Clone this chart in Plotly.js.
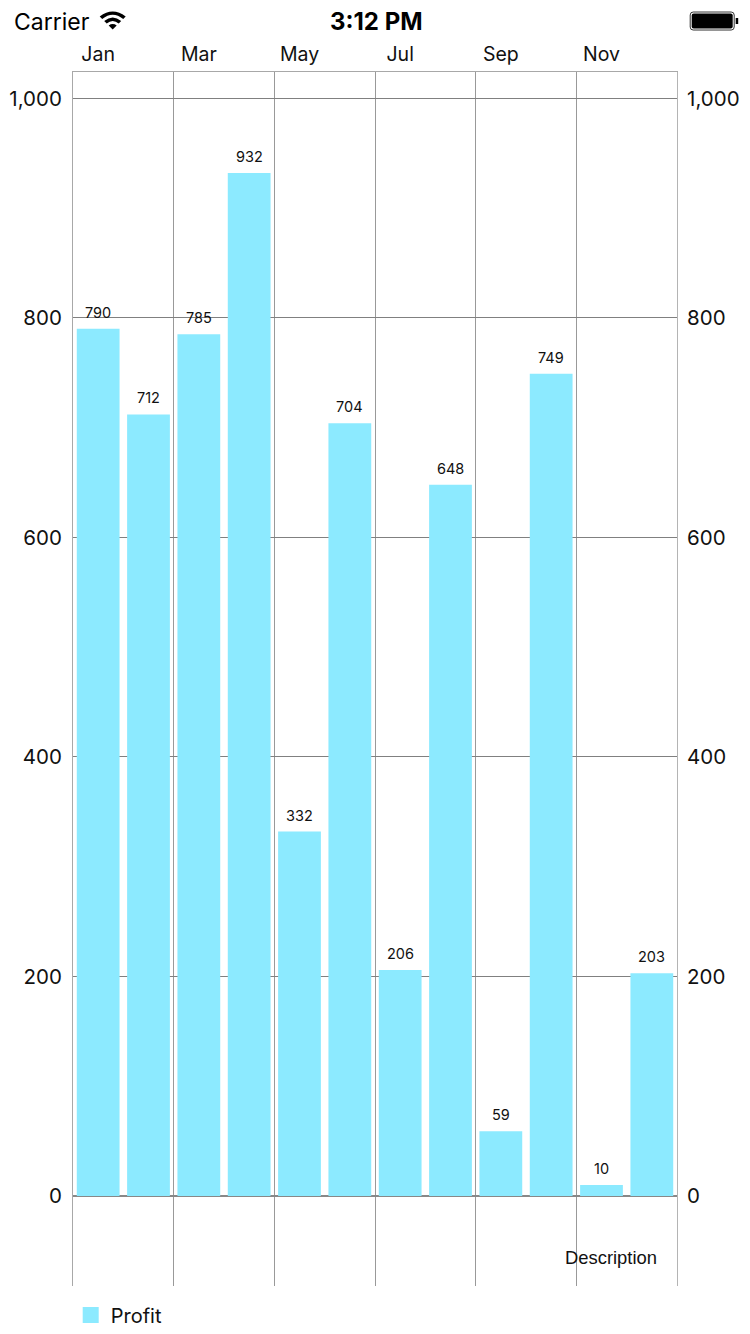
<!DOCTYPE html>
<html><head><meta charset="utf-8">
<script src="https://cdn.plot.ly/plotly-3.0.1.min.js"></script>
<style>
html,body{margin:0;padding:0;background:#fff;overflow:hidden}
#chart{width:750px;height:1334px}
</style></head><body>
<div id="chart"></div>
<script>
const months = ["Jan","Feb","Mar","Apr","May","Jun","Jul","Aug","Sep","Oct","Nov","Dec"];
const profit = [790,712,785,932,332,704,206,648,59,749,10,203];
const yTicks = [0,200,400,600,800,1000];
const xLabelIdx = [0,2,4,6,8,10];
const xGrid = [-0.5,1.5,3.5,5.5,7.5,9.5,11.5];
const FONT = "Inter, Roboto, sans-serif";
const W = 750, H = 1334;
const M = {l:73.3, r:72.7, t:71.5, b:48};
const px = v => (v - M.l) / (W - M.l - M.r);
const py = v => 1 - (v - M.t) / (H - M.t - M.b);
const rounded = (x0,y0,x1,y1,r) => ["M",px(x0+r),py(y0),"L",px(x1-r),py(y0),"Q",px(x1),py(y0),px(x1),py(y0+r),
  "L",px(x1),py(y1-r),"Q",px(x1),py(y1),px(x1-r),py(y1),"L",px(x0+r),py(y1),"Q",px(x0),py(y1),px(x0),py(y1-r),
  "L",px(x0),py(y0+r),"Q",px(x0),py(y0),px(x0+r),py(y0),"Z"].join(" ");

const traces = [
  {type:"bar", x:months.map((_,i)=>i), y:profit, width:0.85, name:"Profit", showlegend:false,
   marker:{color:"#8CEAFF"}, hoverinfo:"x+y"},
  {type:"scatter", mode:"markers", x:[null], y:[null], name:"Profit", showlegend:true,
   marker:{symbol:"square", size:16, color:"#8CEAFF"}},
  {type:"scatter", mode:"markers", x:[null], y:[null], yaxis:"y2", showlegend:false, hoverinfo:"skip"}
];

const valueLabels = profit.map((v,i)=>({
  x:i, y:v, xref:"x", yref:"y", text:String(v), showarrow:false, yanchor:"bottom", yshift:6,
  font:{family:FONT, size:14.5, color:"#111"}
}));

const statusText = [
  {x:px(12), y:py(21), text:"Carrier", xanchor:"left", font:{family:FONT, size:23, color:"#000"}},
  {x:px(377), y:py(21), text:"<b>3:12 PM</b>", xanchor:"center", font:{family:FONT, size:24, color:"#000"}},
  {x:px(611), y:py(1257), text:"Description", xanchor:"center", font:{family:"Liberation Sans", size:18.4, color:"#111"}}
].map(a=>Object.assign({xref:"paper", yref:"paper", showarrow:false, yanchor:"middle"}, a));

const layout = {
  width:W, height:H, autosize:false,
  margin:{l:M.l, r:M.r, t:M.t, b:M.b, pad:0, autoexpand:false},
  paper_bgcolor:"#fff", plot_bgcolor:"#fff",
  font:{family:FONT, color:"#111"},
  bargap:0.15,
  xaxis:{
    side:"top", range:[-0.5,11.5], tickmode:"array",
    tickvals:xLabelIdx, ticktext:xLabelIdx.map(i=>months[i]),
    showgrid:false, zeroline:false, ticks:"", tickfont:{family:FONT, size:19.5, color:"#111"},
    ticklabelstandoff:2,
    showline:true, linecolor:"#a8a8a8", linewidth:1,
    minor:{tickmode:"array", tickvals:xGrid, showgrid:true, gridcolor:"#999999", gridwidth:1, ticks:""}
  },
  yaxis:{
    range:[-82,1024], tickmode:"array", tickvals:yTicks, tickformat:",d", ticks:"",
    ticklabelstandoff:6,
    tickfont:{family:FONT, size:20.5, color:"#111"},
    showgrid:true, gridcolor:"#808080", gridwidth:1,
    zeroline:true, zerolinecolor:"#888888", zerolinewidth:2,
    showline:true, linecolor:"#a8a8a8", linewidth:1
  },
  yaxis2:{
    overlaying:"y", side:"right", range:[-82,1024], tickmode:"array", tickvals:yTicks, tickformat:",d", ticks:"",
    ticklabelstandoff:5,
    tickfont:{family:FONT, size:20.5, color:"#111"},
    showgrid:false, zeroline:false, showline:true, linecolor:"#b4b4b4", linewidth:1
  },
  legend:{
    x:px(71), y:py(1315), xanchor:"left", yanchor:"middle", orientation:"h",
    font:{family:FONT, size:20, color:"#111"}, bgcolor:"rgba(0,0,0,0)", itemwidth:30, itemclick:false
  },
  annotations:valueLabels.concat(statusText),
  shapes:[
    {type:"path", xref:"paper", yref:"paper", line:{width:0}, fillcolor:"#000",
     path:["M",px(100),py(16),"Q",px(113),py(6),px(126),py(16),"L",px(123.5),py(18.5),"Q",px(113),py(10),px(102.5),py(18.5),"Z"].join(" ")},
    {type:"path", xref:"paper", yref:"paper", line:{width:0}, fillcolor:"#000",
     path:["M",px(104.5),py(20.5),"Q",px(113),py(13.5),px(121.5),py(20.5),"L",px(119),py(23),"Q",px(113),py(18),px(107),py(23),"Z"].join(" ")},
    {type:"path", xref:"paper", yref:"paper", line:{width:0}, fillcolor:"#000",
     path:["M",px(109),py(25),"Q",px(113),py(22),px(117),py(25),"L",px(113),py(29),"Z"].join(" ")},
    {type:"path", xref:"paper", yref:"paper", path:rounded(690.5,11.5,734.5,29.5,3), line:{color:"#333",width:1}, fillcolor:"#fff"},
    {type:"path", xref:"paper", yref:"paper", path:rounded(692,13,733,28,2), line:{width:0}, fillcolor:"#000"},
    {type:"rect", xref:"paper", yref:"paper", x0:px(736), x1:px(738.5), y0:py(23.5), y1:py(17.5), line:{width:0}, fillcolor:"#000"}
  ]
};
Plotly.newPlot("chart", traces, layout, {displayModeBar:false, responsive:false});
</script>
</body></html>
